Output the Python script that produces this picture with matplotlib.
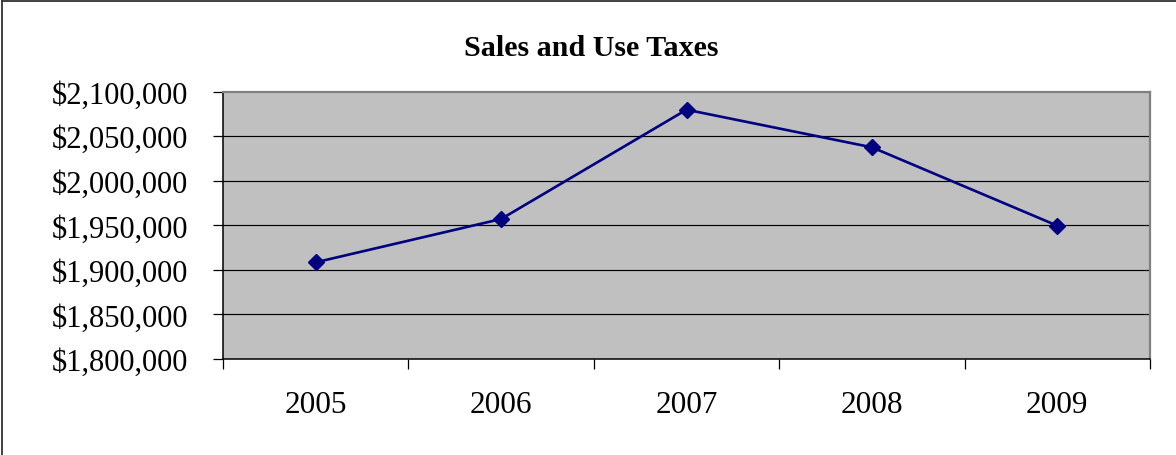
import matplotlib
matplotlib.use("Agg")
import matplotlib.pyplot as plt
from matplotlib.lines import Line2D
from matplotlib.ticker import FuncFormatter, FixedLocator

# Sales and use tax revenue by year
years = ["2005", "2006", "2007", "2008", "2009"]
revenue = [1908500, 1957100, 2079800, 2037600, 1949600]
y_ticks = [1800000, 1850000, 1900000, 1950000, 2000000, 2050000, 2100000]

plt.rcParams["font.family"] = ["Liberation Serif", "DejaVu Serif"]

fig = plt.figure(figsize=(11.76, 4.56), dpi=100)
fig.patch.set_facecolor("white")

ax = fig.add_axes([223 / 1176, 1 - 360 / 456, (1150 - 223) / 1176, (360 - 92.7) / 456])
ax.set_facecolor("#C0C0C0")

x = list(range(len(years)))
ax.plot(x, revenue, color="#000080", linewidth=1.9, marker="D",
        markersize=8.5, markerfacecolor="#000080", markeredgecolor="#000080",
        zorder=3, clip_on=False)

ax.set_xlim(-0.5, len(years) - 0.5)
ax.set_ylim(y_ticks[0], y_ticks[-1])

# y axis: dollar labels and horizontal gridlines
ax.yaxis.set_major_locator(FixedLocator(y_ticks))
ax.yaxis.set_major_formatter(FuncFormatter(lambda v, p: "${:,.0f}".format(v)))
ax.tick_params(axis="y", which="major", direction="out", length=7.2, width=0.9,
               color="black", labelsize=22, pad=18, labelcolor="black")
for v in y_ticks[1:-1]:
    ax.axhline(v, color="black", linewidth=0.85, zorder=1)

# x axis: ticks between categories, labels at category centres
ax.xaxis.set_major_locator(FixedLocator([i - 0.5 for i in range(len(years) + 1)]))
ax.xaxis.set_major_formatter(FuncFormatter(lambda v, p: ""))
ax.xaxis.set_minor_locator(FixedLocator(x))
ax.set_xticklabels(years, minor=True)
ax.tick_params(axis="x", which="major", direction="out", length=7.2, width=0.9,
               color="black")
ax.tick_params(axis="x", which="minor", length=0, labelsize=22.5, pad=22,
               labelcolor="black")

for side in ("left", "bottom"):
    ax.spines[side].set_color("black")
    ax.spines[side].set_linewidth(1.1)
for side in ("top", "right"):
    ax.spines[side].set_color("#808080")
    ax.spines[side].set_linewidth(1.6)

fig.text(591 / 1176, 1 - 56 / 456, "Sales and Use Taxes", ha="center",
         va="baseline", fontsize=21.6, fontweight="bold", color="black")

# chart area border (left and top edges)
fig.add_artist(Line2D([2 / 1176, 2 / 1176], [0, 1 - 2 / 456],
                      transform=fig.transFigure, color="#333333", linewidth=1.3))
fig.add_artist(Line2D([2 / 1176, 1], [1 - 2 / 456, 1 - 2 / 456],
                      transform=fig.transFigure, color="#333333", linewidth=1.3))

fig.savefig("out.png", dpi=100, facecolor="white")
